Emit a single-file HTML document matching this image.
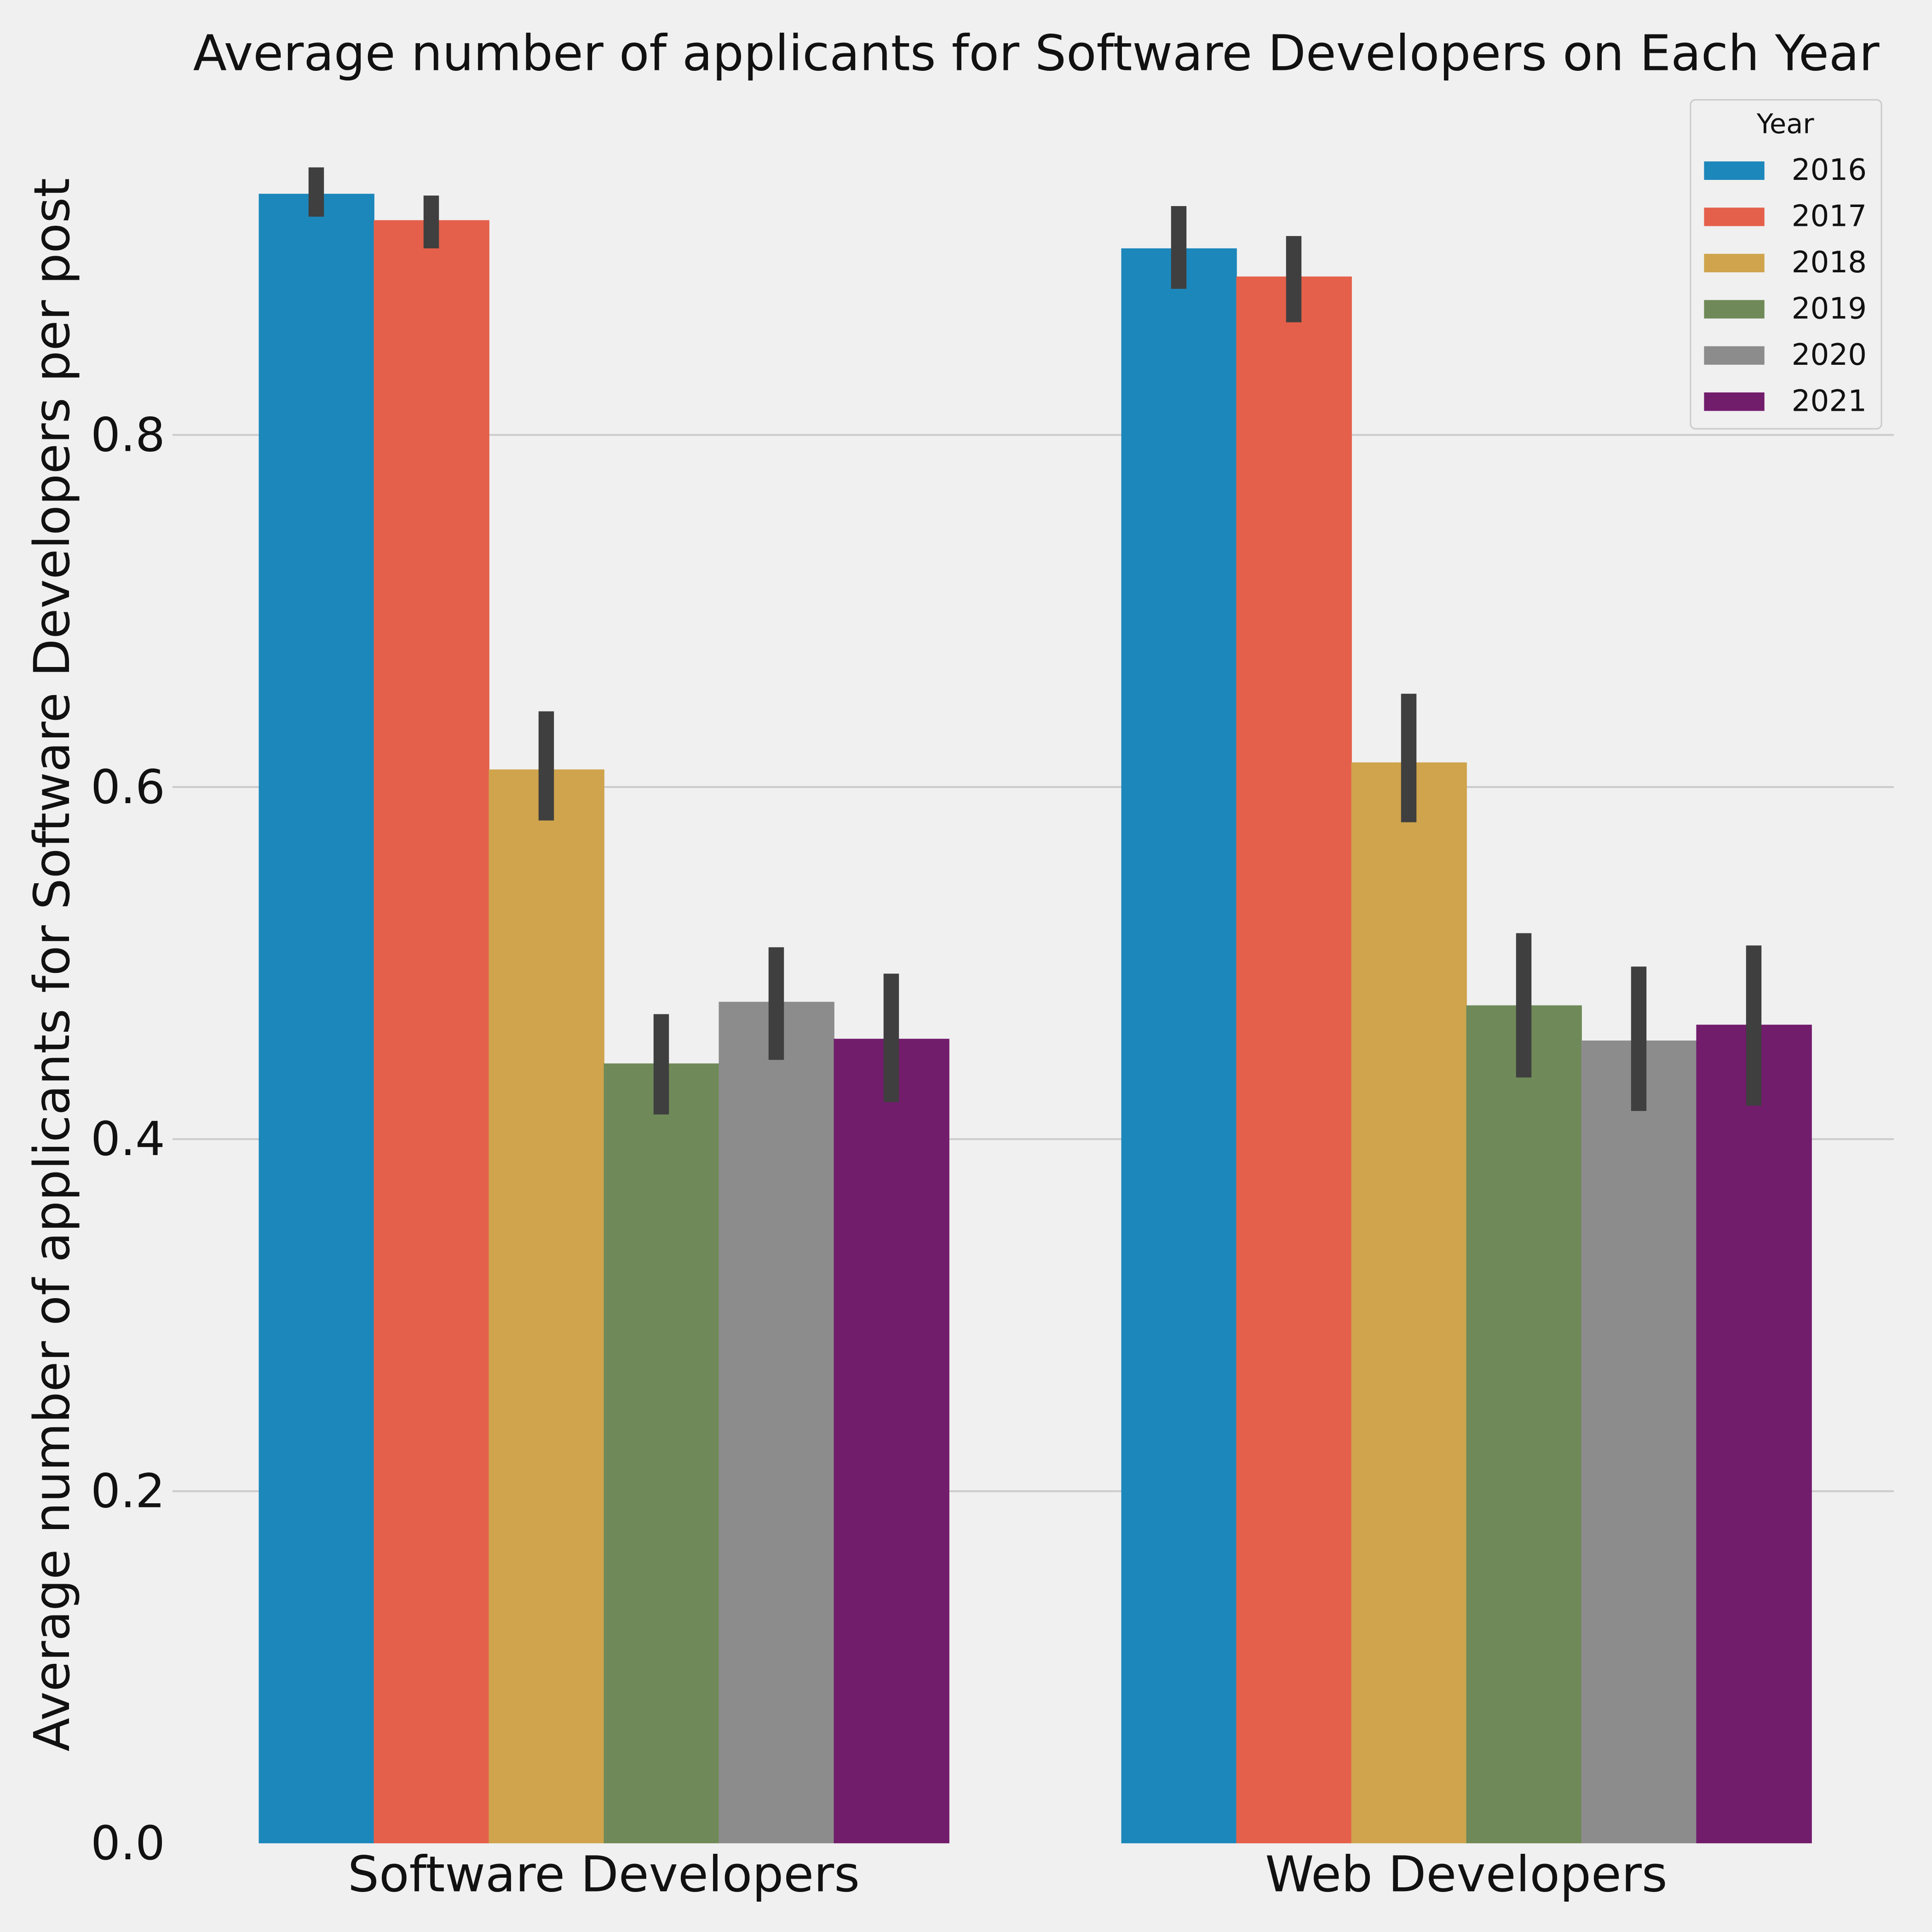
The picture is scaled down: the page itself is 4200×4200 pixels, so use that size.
<!DOCTYPE html>
<html><head><meta charset="utf-8"><style>
html,body{margin:0;padding:0;background:#f0f0f0;}
svg{display:block;font-family:"DejaVu Sans","Liberation Sans",sans-serif;}
</style></head><body>
<svg id="chart" width="4200" height="4200" viewBox="0 0 1568 1568" xmlns="http://www.w3.org/2000/svg">
<rect x="0" y="0" width="1568" height="1568" fill="#f0f0f0"/>
<g id="grid"></g>
<g id="bars"></g>
<g id="errs"></g>
<g id="yticks"></g>
<g id="xticks"></g>
<text x="841" y="57" font-size="40" text-anchor="middle" fill="#111">Average number of applicants for Software Developers on Each Year</text>
<text transform="translate(56,783) rotate(-90)" font-size="40" text-anchor="middle" fill="#111">Average number of applicants for Software Developers per post</text>
<g id="legend">
<rect x="1372" y="81" width="155" height="267" rx="4" fill="#f0f0f0" stroke="#cccccc" stroke-width="1.2"/>
<text x="1449" y="108" font-size="22" text-anchor="middle" fill="#111">Year</text>
</g>
</svg>
<script>
const categories=["Software Developers","Web Developers"];
const years=["2016","2017","2018","2019","2020","2021"];
const colors=["#1c87bb","#e5604a","#cfa44c","#6f8a58","#8c8c8c","#721c6c"];
const vals2016=[0.937,0.906];
const vals2017=[0.922,0.890];
const vals2018=[0.610,0.614];
const vals2019=[0.443,0.476];
const vals2020=[0.478,0.456];
const vals2021=[0.457,0.465];
const lo2016=[0.924,0.883],hi2016=[0.952,0.930];
const lo2017=[0.906,0.864],hi2017=[0.936,0.913];
const lo2018=[0.581,0.580],hi2018=[0.643,0.653];
const lo2019=[0.414,0.435],hi2019=[0.471,0.517];
const lo2020=[0.445,0.416],hi2020=[0.509,0.498];
const lo2021=[0.421,0.419],hi2021=[0.494,0.510];
const yTicks=[0,0.2,0.4,0.6,0.8];
const yTickLabels=["0.0","0.2","0.4","0.6","0.8"];

const series=[vals2016,vals2017,vals2018,vals2019,vals2020,vals2021];
const los=[lo2016,lo2017,lo2018,lo2019,lo2020,lo2021];
const his=[hi2016,hi2017,hi2018,hi2019,hi2020,hi2021];
const NS="http://www.w3.org/2000/svg";
const y=v=>1496-v*1428.75;
const x=c=>490+c*700;
const groupW=560,barW=groupW/years.length;
function mk(tag,attrs,parent){const e=document.createElementNS(NS,tag);for(const k in attrs)e.setAttribute(k,attrs[k]);document.getElementById(parent).appendChild(e);return e;}
yTicks.forEach((t,i)=>{
  if(t>0){const g=mk('line',{x1:140,x2:1537,y1:y(t),y2:y(t),stroke:'#cbcbcb','stroke-width':1.5},'grid');
  
  }
  const l=mk('text',{x:134,y:y(t)+13,'font-size':38,'text-anchor':'end',fill:'#111'},'yticks');
  
  
  l.textContent=yTickLabels[i];
});
categories.forEach((c,ci)=>{
  const l=mk('text',{x:x(ci),y:1535,'font-size':40,'text-anchor':'middle',fill:'#111'},'xticks');
  
  
  l.textContent=c;
  series.forEach((s,si)=>{
    const bx=x(ci)-groupW/2+si*barW;
    const r=mk('rect',{x:bx,y:y(s[ci]),width:barW+0.5,height:y(0)-y(s[ci]),fill:colors[si]},'bars');
    
    
    const e=mk('line',{x1:bx+barW/2,x2:bx+barW/2,y1:y(his[si][ci]),y2:y(los[si][ci]),stroke:'#3f3f3f','stroke-width':12.5},'errs');
    
    
  });
});
years.forEach((yr,i)=>{
  const yy=138+i*37.5;
  const p=mk('rect',{x:1383,y:yy-7,width:49,height:15,fill:colors[i]},'legend');
  
  
  const t=mk('text',{x:1454,y:yy+8,'font-size':24,fill:'#111'},'legend');
  
  
  t.textContent=yr;
});
</script>
</body></html>
